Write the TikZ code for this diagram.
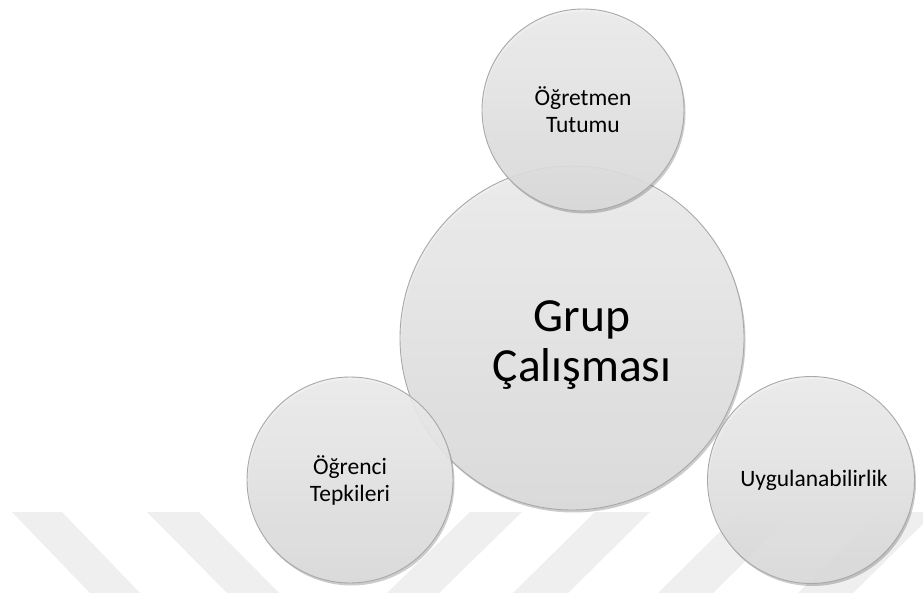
\documentclass[tikz,border=0pt]{standalone}
\usepackage{fontspec}
\setmainfont{Carlito}
\usetikzlibrary{shadows}
\definecolor{bubtop}{HTML}{EFEFEF}
\definecolor{bubbot}{HTML}{DCDCDC}
\definecolor{bubline}{HTML}{A8A8A8}
\definecolor{stripegray}{HTML}{EFEFEF}
\begin{document}
\begin{tikzpicture}[x=1pt,y=-1pt,
  bubble/.style={circle, draw=bubline, line width=0.9pt,
    top color=bubtop, bottom color=bubbot, fill opacity=0.9, text opacity=1,
    align=center, inner sep=0pt,
    drop shadow={shadow xshift=1.5pt, shadow yshift=-2.5pt, opacity=0.2, fill=black}},
  smalltext/.style={font=\fontsize{23.5}{27}\selectfont},
  bigtext/.style={font=\fontsize{47.5}{50}\selectfont, align=center, inner sep=0pt},
  stripe/.style={fill=stripegray, draw=none}]
\useasboundingbox (0,0) rectangle (923,593);
\fill[white] (0,0) rectangle (923,593);
% watermark stripes
\fill[stripe] (12,512) -- (62,512) -- (140,593) -- (90,593) -- cycle;
\fill[stripe] (147,512) -- (199,512) -- (279,593) -- (227,593) -- cycle;
\fill[stripe] (470,512) -- (522,512) -- (439,593) -- (387,593) -- cycle;
\fill[stripe] (595,512) -- (650,512) -- (568,593) -- (513,593) -- cycle;
\fill[stripe] (740,512) -- (795,512) -- (713,593) -- (658,593) -- cycle;
\fill[stripe] (880,512) -- (935,512) -- (853,593) -- (798,593) -- cycle;
% bubbles
\node[bubble, minimum size=344pt] (center) at (572,338) {};
\node[bubble, smalltext, minimum size=206pt] (left) at (350,480) {Öğrenci\\Tepkileri};
\node[bubble, smalltext, minimum size=207pt] (right) at (811,480) {\hspace*{6pt}Uygulanabilirlik};
\node[bubble, smalltext, minimum size=202pt] (top) at (583,110) {Öğretmen\\Tutumu};
\node[bigtext] (centerlabel) at (582,345) {Grup\\Çalışması};
\end{tikzpicture}
\end{document}
